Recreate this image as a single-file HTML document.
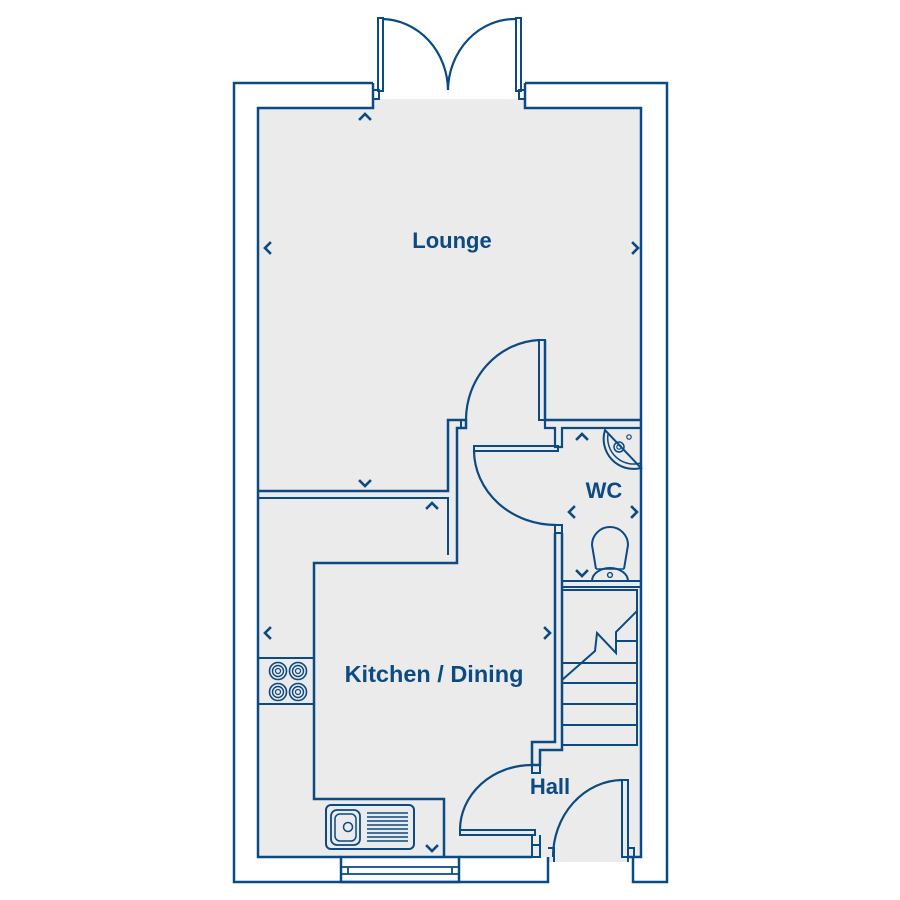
<!DOCTYPE html>
<html><head><style>html,body{margin:0;padding:0;background:#fff;}svg{display:block}</style></head>
<body>
<svg width="900" height="900" viewBox="0 0 900 900" xmlns="http://www.w3.org/2000/svg">
<defs>
<g id="ring"><circle r="8.5" fill="none" stroke="#0b4a82" stroke-width="1.6"/><circle r="5.5" fill="none" stroke="#0b4a82" stroke-width="1.4"/><circle r="2.5" fill="none" stroke="#0b4a82" stroke-width="1.2"/></g>
</defs>
<rect x="373" y="99" width="152" height="12" fill="#ebebeb"/>
<rect x="259" y="108" width="382" height="749" fill="#ebebeb"/>
<rect x="548" y="845" width="80" height="17" fill="#ebebeb"/>
<g fill="none" stroke="#0b4a82" stroke-width="2.5">
<path d="M373,83 H234 V882 H548 V857"/>
<path d="M525,83 H667 V882 H633 V857"/>
<path d="M373,83 V108 H258 V857 H341"/>
<path d="M525,83 V108 H641 V857 H628"/>
<path d="M459,857 H532"/>
<rect x="341" y="857" width="118" height="25"/>
<path d="M341,867 H459 M341,874 H459" stroke-width="1.8"/>
<path d="M348,867 V874 M452,867 V874" stroke-width="1.8"/>
<rect x="373" y="90" width="6" height="9" stroke-width="2"/>
<rect x="519" y="90" width="6" height="9" stroke-width="2"/>
<rect x="378" y="18" width="5" height="73" stroke-width="2"/>
<rect x="516" y="18" width="5" height="73" stroke-width="2"/>
<path d="M383,19 A67,72 0 0 1 448,90" stroke-width="2.2"/>
<path d="M516,19 A67,72 0 0 0 448,90" stroke-width="2.2"/>
<path d="M258,491 H448 V420 H466 V428 H457 V563 H314 V799 H444 V857"/>
<path d="M258,498 H448 V555" stroke-width="2"/>
<path d="M461,420 V428" stroke-width="2"/>
<rect x="539" y="340" width="6" height="80" stroke-width="2"/>
<path d="M466,420 A77,80 0 0 1 539,340" stroke-width="2.2"/>
<path d="M545,340 V420 H641"/>
<path d="M545,420 V428 H555 V447 H562 V428 H641" stroke-width="2.2"/>
<rect x="474" y="446" width="84" height="5" stroke-width="2"/>
<path d="M474,451 A82,75 0 0 0 556,525" stroke-width="2.2"/>
<path d="M555,525 H562 V533 H555 Z" stroke-width="2"/>
<path d="M555,533 V742 H532 V765 H540 V750 H562 V533"/>
<path d="M562,581 H641 M562,587 H641" stroke-width="2"/>
<path d="M562,590 H637 V745 H562 Z" stroke-width="2"/>
<path d="M562,663 H637 M562,683 H637 M562,704 H637 M562,725 H637" stroke-width="2"/>
<path d="M562,680 L595,651 L597,633 L616,653 V632 L637,611" stroke-width="2"/>
<path d="M616,641 H637" stroke-width="2"/>
<rect x="460" y="830" width="75" height="5" stroke-width="2"/>
<path d="M460,830 A72,65 0 0 1 532,765" stroke-width="2.2"/>
<path d="M532,765 H540 V773 H532 Z" stroke-width="2"/>
<path d="M532,835 V857 H540 V835 M532,845 H540" stroke-width="2"/>
<path d="M258,658 H314 M258,704 H314" stroke-width="2"/>
<rect x="326" y="805" width="88" height="44" rx="5" stroke-width="2"/>
<rect x="331" y="810" width="29" height="35" rx="6" stroke-width="1.8"/>
<rect x="335" y="814" width="21" height="27" rx="5" stroke-width="1.5"/>
<circle cx="348" cy="827" r="4.5" stroke-width="1.5"/>
<path d="M367,813 H408 M367,817 H408 M367,821 H408 M367,825 H408 M367,829 H408 M367,833 H408 M367,837 H408 M367,841 H408" stroke-width="1.5"/>
<path d="M605,430 A30,30 0 0 0 641,468 Z" stroke-width="2"/>
<path d="M608,434 A26,26 0 0 0 641,463" stroke-width="1.5"/>
<circle cx="619" cy="447" r="5" stroke-width="1.5"/>
<circle cx="619" cy="447" r="2.2" stroke-width="1.2"/>
<circle cx="629" cy="437" r="2.2" stroke-width="1.2"/>
<path d="M596,569 L592,545 A18,18 0 0 1 628,545 L624,569" stroke-width="2"/>
<path d="M592,581 A18,13 0 0 1 628,581 Z" stroke-width="2"/>
<path d="M596,569 H624" stroke-width="1.5"/>
<circle cx="610" cy="575" r="2.4" stroke-width="1.4"/>
</g>
<!-- front door -->
<rect x="622" y="780" width="6" height="77" fill="none" stroke="#0b4a82" stroke-width="2"/>
<path d="M553,857 A70,77 0 0 1 622,780" fill="none" stroke="#0b4a82" stroke-width="2.2"/>
<path d="M548,848 H554 V862 M628,848 H634 V857 M628,857 V862" fill="none" stroke="#0b4a82" stroke-width="2"/>
<g fill="none" stroke="#0b4a82" stroke-width="1.5">
<use href="#ring" x="278" y="671"/><use href="#ring" x="298" y="671"/>
<use href="#ring" x="278" y="692"/><use href="#ring" x="298" y="692"/>
</g>
<g fill="none" stroke="#0b4a82" stroke-width="2.6" stroke-linecap="square">
<path d="M360,119 L365,114 L370,119"/>
<path d="M360,481 L365,486 L370,481"/>
<path d="M270,243 L265,248 L270,253"/>
<path d="M633,243 L638,248 L633,253"/>
<path d="M427,508 L432,503 L437,508"/>
<path d="M427,846 L432,851 L437,846"/>
<path d="M270,628 L265,633 L270,638"/>
<path d="M545,628 L550,633 L545,638"/>
<path d="M577,439 L582,434 L587,439"/>
<path d="M577,571 L582,576 L587,571"/>
<path d="M574,507 L569,512 L574,517"/>
<path d="M632,507 L637,512 L632,517"/>
</g>
<g font-family="Liberation Sans, sans-serif" font-weight="bold" fill="#0b4a82" text-anchor="middle">
<text x="452" y="248" font-size="22">Lounge</text>
<text x="434" y="682" font-size="23.5">Kitchen / Dining</text>
<text x="604" y="498" font-size="22">WC</text>
<text x="550" y="794" font-size="22">Hall</text>
</g>
</svg>
</body></html>
